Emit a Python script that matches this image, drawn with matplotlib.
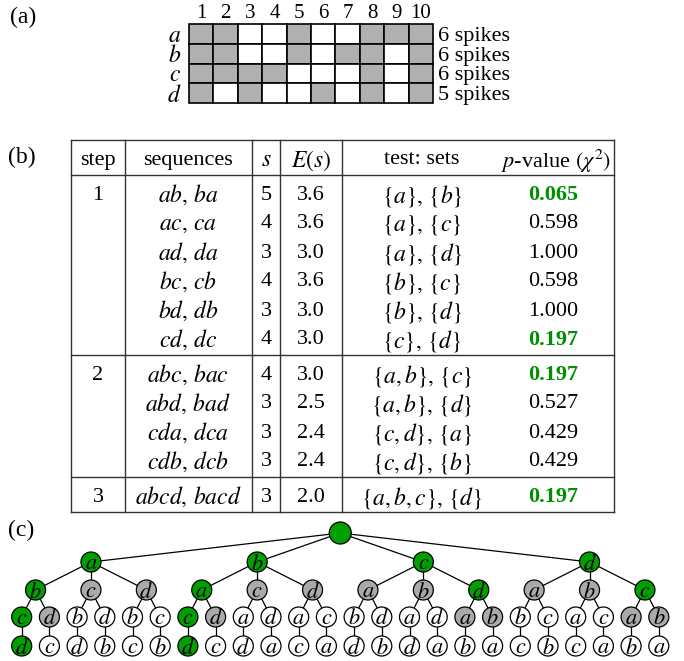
import numpy as np
import matplotlib.pyplot as plt
from matplotlib.patches import Rectangle, Circle

plt.rcParams['font.family'] = 'Liberation Serif'
plt.rcParams['mathtext.fontset'] = 'stix'

# (a) spike raster: 4 neurons x 10 time bins
neurons = ['a', 'b', 'c', 'd']
spikes = np.array([
    [1, 1, 0, 0, 1, 0, 0, 1, 1, 1],
    [1, 1, 0, 0, 1, 0, 1, 1, 0, 1],
    [1, 1, 1, 1, 0, 0, 0, 1, 0, 1],
    [1, 0, 1, 0, 0, 1, 0, 1, 0, 1],
])

# (b) table of tests per step
steps = [1, 2, 3]
rows_per_step = [6, 4, 1]
sequences = [r'ab,\,ba', r'ac,\,ca', r'ad,\,da', r'bc,\,cb', r'bd,\,db', r'cd,\,dc',
             r'abc,\,bac', r'abd,\,bad', r'cda,\,dca', r'cdb,\,dcb',
             r'abcd,\,bacd']
s_counts = [5, 4, 3, 4, 3, 4, 4, 3, 3, 3, 3]
expected = [3.6, 3.6, 3.0, 3.6, 3.0, 3.0, 3.0, 2.5, 2.4, 2.4, 2.0]
test_sets = [r'\{a\},\,\{b\}', r'\{a\},\,\{c\}', r'\{a\},\,\{d\}', r'\{b\},\,\{c\}',
             r'\{b\},\,\{d\}', r'\{c\},\,\{d\}',
             r'\{a,b\},\,\{c\}', r'\{a,b\},\,\{d\}', r'\{c,d\},\,\{a\}', r'\{c,d\},\,\{b\}',
             r'\{a,b,c\},\,\{d\}']
p_values = [0.065, 0.598, 1.000, 0.598, 1.000, 0.197,
            0.197, 0.527, 0.429, 0.429, 0.197]
alpha = 0.2

# (c) search tree: node colour by prefix
green_nodes = ['', 'a', 'b', 'c', 'd', 'ab', 'ba', 'cd', 'dc', 'abc', 'bac', 'abcd', 'bacd']
gray_nodes = ['ac', 'ad', 'bc', 'bd', 'ca', 'cb', 'da', 'db',
              'abd', 'bad', 'cda', 'cdb', 'dca', 'dcb']

GREEN = '#00a000'
GREEN_TXT = '#008f00'
GRAY = '#b0b0b0'
LINE = '#333333'

fig = plt.figure(figsize=(6.84, 6.61), dpi=100)
ax = fig.add_axes([0, 0, 1, 1])
ax.set_xlim(0, 684)
ax.set_ylim(661, 0)
ax.axis('off')

# ---- (a) ----
ax.text(10, 17, '(a)', fontsize=17, ha='left', va='center')
gx, gy, cw, ch = 189, 24, 24.4, 19.75
for i, row in enumerate(spikes):
    for j, v in enumerate(row):
        ax.add_patch(Rectangle((gx + j * cw, gy + i * ch), cw, ch,
                               facecolor=GRAY if v else 'white',
                               edgecolor='black', lw=1.2))
    yc = gy + (i + 0.5) * ch
    ax.text(gx - 8, yc, f'${neurons[i]}$', fontsize=17, ha='right', va='center_baseline')
    ax.text(gx + 10 * cw + 5, yc, f'{row.sum()} spikes', fontsize=16,
            ha='left', va='center_baseline')
for j in range(spikes.shape[1]):
    ax.text(gx + (j + 0.5) * cw, 13, str(j + 1), fontsize=15, ha='center', va='center')

# ---- (b) ----
ax.text(8, 157, '(b)', fontsize=17, ha='left', va='center')
cols = [71, 125, 252, 280, 342, 614]
top, head_h, row_h, pad = 140, 35, 29, 3
bottoms = []
y = top + head_h
for n in rows_per_step:
    y += n * row_h + 2 * pad
    bottoms.append(y)
bottom = bottoms[-1]

for x in cols:
    ax.plot([x, x], [top, bottom], color=LINE, lw=1.0)
for yy in [top, top + head_h] + bottoms:
    ax.plot([cols[0], cols[-1]], [yy, yy], color=LINE, lw=1.0)

hy = top + head_h / 2
x_step, x_seq, x_s, x_e, x_set, x_p = 98, 188, 266, 311, 422, 553
fs = 16
mfs = 17
ax.text(x_step, hy, 'step', fontsize=fs, ha='center', va='center_baseline')
ax.text(x_seq, hy, 'sequences', fontsize=fs, ha='center', va='center_baseline')
ax.text(x_s, hy, '$s$', fontsize=mfs, ha='center', va='center_baseline')
ax.text(x_e, hy, '$E(s)$', fontsize=mfs, ha='center', va='center_baseline')
ax.text(x_set, hy, 'test: sets', fontsize=fs, ha='center', va='center_baseline')
ax.text(556, hy, r'$p$-value $(\chi^2)$', fontsize=fs, ha='center', va='center_baseline')

k = 0
gtop = top + head_h
for step, n, gb in zip(steps, rows_per_step, bottoms):
    for r in range(n):
        ry = gtop + pad + (r + 0.5) * row_h
        if r == 0:
            ax.text(x_step, ry, str(step), fontsize=fs, ha='center', va='center_baseline')
        ax.text(x_seq, ry, f'${sequences[k]}$', fontsize=mfs, ha='center', va='center_baseline')
        ax.text(x_s, ry, str(s_counts[k]), fontsize=fs, ha='center', va='center_baseline')
        ax.text(x_e, ry, f'{expected[k]:.1f}', fontsize=fs, ha='center', va='center_baseline')
        ax.text(x_set, ry, f'${test_sets[k]}$', fontsize=mfs, ha='center', va='center_baseline')
        sig = p_values[k] < alpha
        ax.text(x_p, ry, f'{p_values[k]:.3f}', fontsize=fs, ha='center', va='center_baseline',
                color=GREEN_TXT if sig else 'black', fontweight='bold' if sig else 'normal')
        k += 1
    gtop = gb

# ---- (c) ----
ax.text(8, 530, '(c)', fontsize=17, ha='left', va='center')
level_y = [533, 562, 590, 617, 646]
leaf0, leaf_step = 21.7, 27.7
pos = {}
counter = [0]


def place(path):
    rest = [n for n in neurons if n not in path]
    if len(path) == len(neurons) - 1:
        x = leaf0 + leaf_step * counter[0]
        counter[0] += 1
        pos[path] = x
        pos[path + rest[0]] = x
        return x
    xs = [place(path + r) for r in rest]
    pos[path] = float(np.mean(xs))
    return pos[path]


place('')

for path, x in pos.items():
    if path:
        parent = path[:-1]
        ax.plot([pos[parent], x], [level_y[len(parent)], level_y[len(path)]],
                color='black', lw=0.9, zorder=1)

for path, x in pos.items():
    y = level_y[len(path)]
    if path in green_nodes:
        fc = GREEN
    elif path in gray_nodes:
        fc = '#aaaaaa'
    else:
        fc = 'white'
    r = 11 if path == '' else 10
    ax.add_patch(Circle((x, y), r, facecolor=fc, edgecolor='black', lw=0.9, zorder=2))
    if path:
        ax.text(x, y, f'${path[-1]}$', fontsize=16, ha='center', va='center_baseline', zorder=3)

fig.savefig('out.png', dpi=100)
